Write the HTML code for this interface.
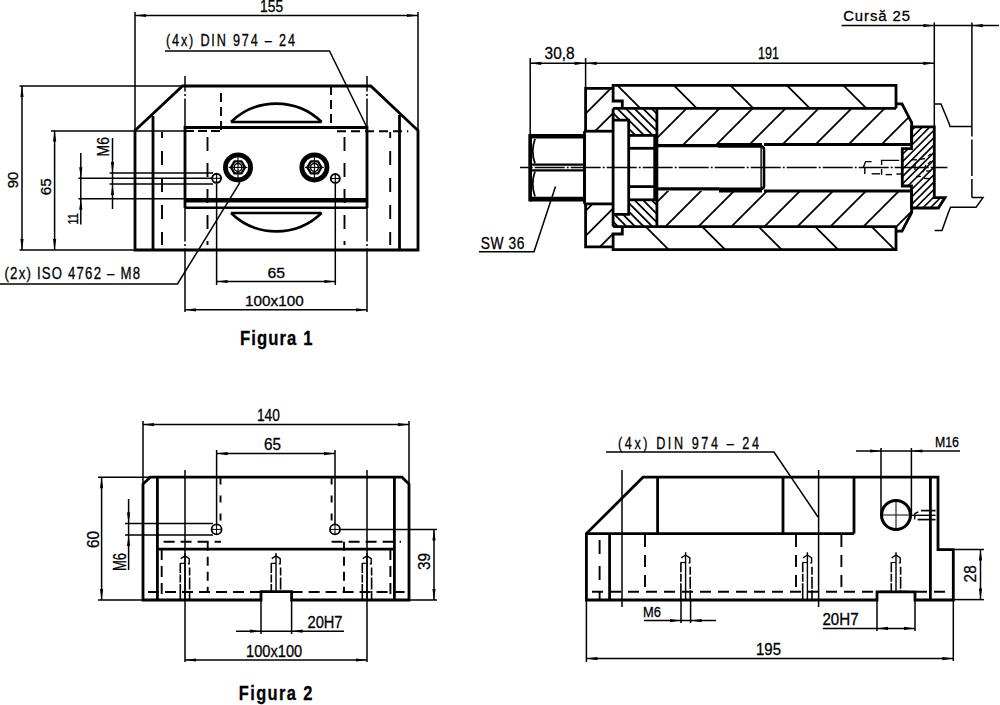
<!DOCTYPE html>
<html><head><meta charset="utf-8"><style>
html,body{margin:0;padding:0;background:#fff;width:1000px;height:705px;overflow:hidden}
svg{display:block}
text{white-space:pre;fill:#000;font-family:"Liberation Sans",sans-serif}
</style></head><body>
<svg width="1000" height="705" viewBox="0 0 1000 705" stroke="#000" fill="none" font-family="Liberation Sans, sans-serif">
<line x1="135" y1="12" x2="135" y2="130.5" stroke-width="1.5" stroke-linecap="butt"/>
<line x1="418" y1="12" x2="418" y2="130.5" stroke-width="1.5" stroke-linecap="butt"/>
<line x1="135" y1="15.5" x2="418" y2="15.5" stroke-width="1.5" stroke-linecap="butt"/>
<polygon points="135,15.5 146,13.9 146,17.1" fill="#000" stroke="none"/>
<polygon points="418,15.5 407,17.1 407,13.9" fill="#000" stroke="none"/>
<text x="0" y="0" font-size="16.28" stroke="#000" stroke-width="0.3" transform="translate(260 11.5) scale(0.85 1)">155</text>
<text x="0" y="0" font-size="15.76" letter-spacing="2.3" stroke="#000" stroke-width="0.3" transform="translate(166 46) scale(0.8 1)">(4x) DIN 974 – 24</text>
<polyline points="165,51 329.5,51 367,127.5" stroke-width="1.5" fill="none" stroke-linejoin="miter"/>
<line x1="19.5" y1="86" x2="182.5" y2="86" stroke-width="1.5" stroke-linecap="butt"/>
<line x1="19.5" y1="250" x2="135" y2="250" stroke-width="1.5" stroke-linecap="butt"/>
<line x1="22" y1="86" x2="22" y2="250" stroke-width="1.5" stroke-linecap="butt"/>
<polygon points="22,86 23.6,97 20.4,97" fill="#000" stroke="none"/>
<polygon points="22,250 20.4,239 23.6,239" fill="#000" stroke="none"/>
<text x="0" y="0" font-size="15.19" stroke="#000" stroke-width="0.3" transform="translate(18.4 188.2) rotate(-90) scale(0.97 1)">90</text>
<line x1="51" y1="130.9" x2="185" y2="130.9" stroke-width="1.5" stroke-linecap="butt"/>
<line x1="54.6" y1="130.5" x2="54.6" y2="250" stroke-width="1.5" stroke-linecap="butt"/>
<polygon points="54.6,130.5 56.2,141.5 53,141.5" fill="#000" stroke="none"/>
<polygon points="54.6,250 53,239 56.2,239" fill="#000" stroke="none"/>
<text x="0" y="0" font-size="15.19" stroke="#000" stroke-width="0.3" transform="translate(51 195.3) rotate(-90) scale(1.01 1)">65</text>
<line x1="78.4" y1="178.3" x2="212" y2="178.3" stroke-width="1.5" stroke-linecap="butt"/>
<line x1="78.4" y1="198.8" x2="185" y2="198.8" stroke-width="1.5" stroke-linecap="butt"/>
<line x1="80.8" y1="153" x2="80.8" y2="224.4" stroke-width="1.5" stroke-linecap="butt"/>
<polygon points="80.8,178.3 79.2,167.3 82.4,167.3" fill="#000" stroke="none"/>
<polygon points="80.8,198.8 82.4,209.8 79.2,209.8" fill="#000" stroke="none"/>
<text x="0" y="0" font-size="15.12" stroke="#000" stroke-width="0.3" transform="translate(77.6 224.4) rotate(-90) scale(0.71 1)">11</text>
<line x1="109.6" y1="172.9" x2="213" y2="172.9" stroke-width="1.5" stroke-linecap="butt"/>
<line x1="109.6" y1="183.9" x2="213" y2="183.9" stroke-width="1.5" stroke-linecap="butt"/>
<line x1="112.5" y1="138" x2="112.5" y2="209" stroke-width="1.5" stroke-linecap="butt"/>
<polygon points="112.5,172.9 110.9,161.9 114.1,161.9" fill="#000" stroke="none"/>
<polygon points="112.5,183.9 114.1,194.9 110.9,194.9" fill="#000" stroke="none"/>
<text x="0" y="0" font-size="16.05" stroke="#000" stroke-width="0.3" transform="translate(108.8 156.4) rotate(-90) scale(0.87 1)">M6</text>
<line x1="216.6" y1="183.5" x2="216.6" y2="285" stroke-width="1.5" stroke-linecap="butt"/>
<line x1="335.3" y1="184" x2="335.3" y2="285" stroke-width="1.5" stroke-linecap="butt"/>
<line x1="216.6" y1="281.5" x2="335.3" y2="281.5" stroke-width="1.5" stroke-linecap="butt"/>
<polygon points="216.6,281.5 227.6,279.9 227.6,283.1" fill="#000" stroke="none"/>
<polygon points="335.3,281.5 324.3,283.1 324.3,279.9" fill="#000" stroke="none"/>
<text x="0" y="0" font-size="15.04" stroke="#000" stroke-width="0.3" transform="translate(267.5 277.5) scale(1.05 1)">65</text>
<line x1="185" y1="309.8" x2="367" y2="309.8" stroke-width="1.5" stroke-linecap="butt"/>
<polygon points="185,309.8 196,308.2 196,311.4" fill="#000" stroke="none"/>
<polygon points="367,309.8 356,311.4 356,308.2" fill="#000" stroke="none"/>
<text x="0" y="0" font-size="15.47" stroke="#000" stroke-width="0.3" transform="translate(245 306.3) scale(0.99 1)">100x100</text>
<text x="0" y="0" font-size="16.48" letter-spacing="1.51" stroke="#000" stroke-width="0.3" transform="translate(4.5 278.5) scale(0.8 1)">(2x) ISO 4762 – M8</text>
<polyline points="0,284 177.5,284 240,182.4" stroke-width="1.5" fill="none" stroke-linejoin="miter"/>
<text x="0" y="0" font-size="20.35" letter-spacing="1.32" font-weight="bold" stroke="#000" stroke-width="0.3" transform="translate(240 345) scale(0.82 1)">Figura 1</text>
<polygon points="135,250 135,130.5 182.5,86 370.75,86 418,130.5 418,250" stroke-width="2.8" fill="none" stroke-linejoin="miter"/>
<line x1="153" y1="116" x2="153" y2="250" stroke-width="2.8" stroke-linecap="butt"/>
<line x1="399.5" y1="115" x2="399.5" y2="250" stroke-width="2.8" stroke-linecap="butt"/>
<polyline points="185,208 185,127.5 367,127.5 367,208" stroke-width="2.8" fill="none" stroke-linejoin="miter"/>
<line x1="185" y1="200.2" x2="367" y2="200.2" stroke-width="4.6" stroke-linecap="butt"/>
<line x1="185" y1="207.7" x2="367" y2="207.7" stroke-width="2.6" stroke-linecap="butt"/>
<polyline points="231,122 321.6,122" stroke-width="2.4" fill="none" stroke-linejoin="miter"/>
<path d="M231 122 A65 65 0 0 1 321.6 122" stroke-width="2.6"/>
<polyline points="231,213 321.6,213" stroke-width="2.4" fill="none" stroke-linejoin="miter"/>
<path d="M231 213 A65 65 0 0 0 321.6 213" stroke-width="2.6"/>
<line x1="185" y1="76" x2="185" y2="91.5" stroke-width="1.5" stroke-linecap="butt"/>
<line x1="185" y1="94" x2="185" y2="96" stroke-width="1.5" stroke-linecap="butt"/>
<line x1="185" y1="98.5" x2="185" y2="241.5" stroke-width="1.5" stroke-linecap="butt"/>
<line x1="185" y1="244" x2="185" y2="246" stroke-width="1.5" stroke-linecap="butt"/>
<line x1="185" y1="248.5" x2="185" y2="312" stroke-width="1.5" stroke-linecap="butt"/>
<line x1="367" y1="76" x2="367" y2="91.5" stroke-width="1.5" stroke-linecap="butt"/>
<line x1="367" y1="94" x2="367" y2="96" stroke-width="1.5" stroke-linecap="butt"/>
<line x1="367" y1="98.5" x2="367" y2="241.5" stroke-width="1.5" stroke-linecap="butt"/>
<line x1="367" y1="244" x2="367" y2="246" stroke-width="1.5" stroke-linecap="butt"/>
<line x1="367" y1="248.5" x2="367" y2="312" stroke-width="1.5" stroke-linecap="butt"/>
<line x1="221" y1="93" x2="221" y2="131" stroke-width="1.9" stroke-dasharray="9 5" stroke-linecap="butt"/>
<line x1="185" y1="131" x2="221" y2="131" stroke-width="1.9" stroke-dasharray="9 4" stroke-linecap="butt"/>
<line x1="331" y1="86" x2="331" y2="126" stroke-width="1.9" stroke-dasharray="9 5" stroke-linecap="butt"/>
<line x1="337" y1="131.3" x2="408.3" y2="131.3" stroke-width="1.9" stroke-dasharray="9 5" stroke-linecap="butt"/>
<line x1="162" y1="132" x2="162" y2="138" stroke-width="1.9" stroke-linecap="butt"/>
<line x1="162" y1="151" x2="162" y2="245" stroke-width="1.9" stroke-dasharray="14 13" stroke-linecap="butt"/>
<line x1="390.2" y1="132" x2="390.2" y2="138" stroke-width="1.9" stroke-linecap="butt"/>
<line x1="390.2" y1="151" x2="390.2" y2="245" stroke-width="1.9" stroke-dasharray="14 13" stroke-linecap="butt"/>
<line x1="207.5" y1="137" x2="207.5" y2="245" stroke-width="1.9" stroke-dasharray="14 12" stroke-linecap="butt"/>
<line x1="344.5" y1="137" x2="344.5" y2="245" stroke-width="1.9" stroke-dasharray="14 12" stroke-linecap="butt"/>
<circle cx="238" cy="167.4" r="12.6" stroke-width="4.8"/>
<polygon points="245.00,167.40 241.50,173.46 234.50,173.46 231.00,167.40 234.50,161.34 241.50,161.34" stroke-width="2.3" stroke-linejoin="round"/>
<circle cx="238" cy="167.4" r="3.9" stroke-width="1.5"/>
<line x1="228.6" y1="167.4" x2="247.4" y2="167.4" stroke-width="1.1" stroke-linecap="butt"/>
<line x1="238" y1="152.9" x2="238" y2="178.4" stroke-width="1.1" stroke-linecap="butt"/>
<circle cx="314.4" cy="167.4" r="12.6" stroke-width="4.8"/>
<polygon points="321.40,167.40 317.90,173.46 310.90,173.46 307.40,167.40 310.90,161.34 317.90,161.34" stroke-width="2.3" stroke-linejoin="round"/>
<circle cx="314.4" cy="167.4" r="3.9" stroke-width="1.5"/>
<line x1="305" y1="167.4" x2="323.8" y2="167.4" stroke-width="1.1" stroke-linecap="butt"/>
<line x1="314.4" y1="152.9" x2="314.4" y2="178.4" stroke-width="1.1" stroke-linecap="butt"/>
<circle cx="216.6" cy="178.3" r="4.5" stroke-width="1.9"/>
<line x1="212.1" y1="178.3" x2="221.1" y2="178.3" stroke-width="1.1" stroke-linecap="butt"/>
<line x1="216.6" y1="173.8" x2="216.6" y2="182.8" stroke-width="1.1" stroke-linecap="butt"/>
<circle cx="335.3" cy="178.5" r="4.5" stroke-width="1.9"/>
<line x1="330.8" y1="178.5" x2="339.8" y2="178.5" stroke-width="1.1" stroke-linecap="butt"/>
<line x1="335.3" y1="174" x2="335.3" y2="183" stroke-width="1.1" stroke-linecap="butt"/>
<line x1="530.2" y1="58" x2="530.2" y2="134" stroke-width="1.5" stroke-linecap="butt"/>
<line x1="585.6" y1="58" x2="585.6" y2="88.3" stroke-width="1.5" stroke-linecap="butt"/>
<line x1="530.2" y1="63.3" x2="585.6" y2="63.3" stroke-width="1.5" stroke-linecap="butt"/>
<polygon points="530.2,63.3 541.2,61.7 541.2,64.9" fill="#000" stroke="none"/>
<polygon points="585.6,63.3 574.6,64.9 574.6,61.7" fill="#000" stroke="none"/>
<text x="0" y="0" font-size="16.05" stroke="#000" stroke-width="0.3" transform="translate(544.6 58.8) scale(0.96 1)">30,8</text>
<line x1="585.6" y1="63.3" x2="934.3" y2="63.3" stroke-width="1.5" stroke-linecap="butt"/>
<polygon points="585.6,63.3 596.6,61.7 596.6,64.9" fill="#000" stroke="none"/>
<polygon points="934.3,63.3 923.3,64.9 923.3,61.7" fill="#000" stroke="none"/>
<text x="0" y="0" font-size="16.05" stroke="#000" stroke-width="0.3" transform="translate(758 58.8) scale(0.78 1)">191</text>
<line x1="841.6" y1="25.6" x2="999" y2="25.6" stroke-width="1.5" stroke-linecap="butt"/>
<polygon points="934.3,25.6 923.3,27.2 923.3,24" fill="#000" stroke="none"/>
<polygon points="971.9,25.6 982.9,24 982.9,27.2" fill="#000" stroke="none"/>
<line x1="934.3" y1="22.4" x2="934.3" y2="126.8" stroke-width="1.5" stroke-linecap="butt"/>
<line x1="971.9" y1="22.4" x2="971.9" y2="136.5" stroke-width="1.5" stroke-linecap="butt"/>
<line x1="971.9" y1="139.5" x2="971.9" y2="176" stroke-width="1.5" stroke-linecap="butt"/>
<line x1="971.9" y1="179" x2="971.9" y2="197.6" stroke-width="1.5" stroke-linecap="butt"/>
<text x="0" y="0" font-size="14.9" letter-spacing="0.91" stroke="#000" stroke-width="0.3" transform="translate(843.2 21.2) scale(1 1)">Cursă 25</text>
<text x="0" y="0" font-size="16.19" letter-spacing="0.71" stroke="#000" stroke-width="0.3" transform="translate(480.8 248.9) scale(0.85 1)">SW 36</text>
<polyline points="479,251.8 534,251.8 555.5,186.4" stroke-width="1.5" fill="none" stroke-linejoin="miter"/>
<clipPath id="c110"><polygon points="613.1,85.4 896,85.4 896,108.4 613.1,108.4"/></clipPath>
<path d="M581.35 -176.65L1028.1 270.1M553.1 -148.4L999.85 298.35M524.85 -120.15L971.6 326.6M496.6 -91.9L943.35 354.85M468.35 -63.65L915.1 383.1" stroke-width="1.8" clip-path="url(#c110)"/>
<clipPath id="c112"><polygon points="613.1,226.6 896,226.6 896,249.6 613.1,249.6"/></clipPath>
<path d="M595.45 -49.55L1042.2 397.2M567.2 -21.3L1013.95 425.45M538.95 6.95L985.7 453.7M510.7 35.2L957.45 481.95M482.45 63.45L929.2 510.2" stroke-width="1.8" clip-path="url(#c112)"/>
<clipPath id="c114"><polygon points="656.9,108.4 896,108.4 896,103.8 902,103.8 911.7,122.6 911.7,144.5 656.9,144.5"/></clipPath>
<path d="M495.05 266.95L927.1 -165.1M511.55 283.45L943.6 -148.6M528.05 299.95L960.1 -132.1M544.55 316.45L976.6 -115.6M561.05 332.95L993.1 -99.1M577.55 349.45L1009.6 -82.6M594.05 365.95L1026.1 -66.1M610.55 382.45L1042.6 -49.6M627.05 398.95L1059.1 -33.1" stroke-width="1.8" clip-path="url(#c114)"/>
<clipPath id="c116"><polygon points="656.9,226.6 896,226.6 896,231.2 902,231.2 911.7,212.4 911.7,191 656.9,191"/></clipPath>
<path d="M500.43 358.57L931.77 -72.77M516.93 375.07L948.27 -56.27M533.43 391.57L964.77 -39.77M549.93 408.07L981.27 -23.27M566.43 424.57L997.77 -6.77M582.93 441.07L1014.27 9.73M599.43 457.57L1030.77 26.23M615.93 474.07L1047.27 42.73M632.43 490.57L1063.77 59.23" stroke-width="1.8" clip-path="url(#c116)"/>
<clipPath id="c118"><polygon points="613.1,108.4 656.9,108.4 656.9,135.4 628.7,135.4 628.7,120.2 613.1,120.2"/></clipPath>
<path d="M592.87 49.77L707.13 164.03M588.57 54.07L702.83 168.33M584.27 58.37L698.53 172.63M579.97 62.67L694.23 176.93M575.67 66.97L689.93 181.23M571.37 71.27L685.63 185.53M567.07 75.57L681.33 189.83M562.77 79.87L677.03 194.13" stroke-width="1.8" clip-path="url(#c118)"/>
<clipPath id="c120"><polygon points="613.1,226.6 656.9,226.6 656.9,199.8 628.7,199.8 628.7,214.4 613.1,214.4"/></clipPath>
<path d="M592.91 141.31L706.89 255.29M588.61 145.61L702.59 259.59M584.31 149.91L698.29 263.89M580.01 154.21L693.99 268.19M575.71 158.51L689.69 272.49M571.41 162.81L685.39 276.79M567.11 167.11L681.09 281.09M562.81 171.41L676.79 285.39" stroke-width="1.8" clip-path="url(#c120)"/>
<clipPath id="c122"><polygon points="585.6,88.3 612.8,88.3 612.8,131.2 585.6,131.2"/></clipPath>
<path d="M537.69 161.51L650.96 48.24M551.19 175.01L664.46 61.74" stroke-width="1.8" clip-path="url(#c122)"/>
<clipPath id="c124"><polygon points="585.6,203.9 612.8,203.9 612.8,246.9 585.6,246.9"/></clipPath>
<path d="M528.39 268.01L641.81 154.59M540.99 280.61L654.41 167.19M553.59 293.21L667.01 179.79" stroke-width="1.8" clip-path="url(#c124)"/>
<clipPath id="c126"><polygon points="911.5,126.8 934.3,126.8 934.3,197.6 945,197.6 938.4,208 911.5,208 911.5,186 902.3,186 902.3,148.6 911.5,148.6"/></clipPath>
<path d="M800.74 233.86L990.11 44.49M804.44 237.56L993.81 48.19M808.14 241.26L997.51 51.89M811.84 244.96L1001.21 55.59M815.54 248.66L1004.91 59.29M819.24 252.36L1008.61 62.99M822.94 256.06L1012.31 66.69M826.64 259.76L1016.01 70.39M830.34 263.46L1019.71 74.09M834.04 267.16L1023.41 77.79M837.74 270.86L1027.11 81.49M841.44 274.56L1030.81 85.19M845.14 278.26L1034.51 88.89M848.84 281.96L1038.21 92.59M852.54 285.66L1041.91 96.29M856.24 289.36L1045.61 99.99M859.94 293.06L1049.31 103.69" stroke-width="1.6" clip-path="url(#c126)"/>
<polyline points="622.3,107.3 622.3,101 613.1,101 613.1,85.4 896,85.4 896,108.4" stroke-width="2.8" fill="none" stroke-linejoin="miter"/>
<line x1="613.1" y1="108.4" x2="896" y2="108.4" stroke-width="2.8" stroke-linecap="butt"/>
<polyline points="622.3,227.7 622.3,234 613.1,234 613.1,249.6 896,249.6 896,226.6" stroke-width="2.8" fill="none" stroke-linejoin="miter"/>
<line x1="613.1" y1="226.6" x2="896" y2="226.6" stroke-width="2.8" stroke-linecap="butt"/>
<polyline points="896,103.8 902,103.8 911.7,122.6 911.7,144.5" stroke-width="2.8" fill="none" stroke-linejoin="miter"/>
<polyline points="896,231.2 902,231.2 911.7,212.4 911.7,191" stroke-width="2.8" fill="none" stroke-linejoin="miter"/>
<line x1="764" y1="144.5" x2="911.7" y2="144.5" stroke-width="2.8" stroke-linecap="butt"/>
<line x1="764" y1="191" x2="911.7" y2="191" stroke-width="2.8" stroke-linecap="butt"/>
<line x1="656.9" y1="145.6" x2="718" y2="145.6" stroke-width="3.2" stroke-linecap="butt"/>
<line x1="656.9" y1="188.9" x2="719" y2="188.9" stroke-width="3.2" stroke-linecap="butt"/>
<line x1="613.1" y1="108.4" x2="613.1" y2="226.6" stroke-width="2.8" stroke-linecap="butt"/>
<line x1="656.9" y1="108.4" x2="656.9" y2="226.6" stroke-width="2.8" stroke-linecap="butt"/>
<polyline points="613.1,120.2 628.7,120.2 628.7,214.4 613.1,214.4" stroke-width="2.8" fill="none" stroke-linejoin="miter"/>
<line x1="628.7" y1="135.4" x2="656.9" y2="135.4" stroke-width="2.8" stroke-linecap="butt"/>
<line x1="628.7" y1="199.8" x2="656.9" y2="199.8" stroke-width="2.8" stroke-linecap="butt"/>
<line x1="628.7" y1="148.3" x2="654.7" y2="148.3" stroke-width="2.8" stroke-linecap="butt"/>
<line x1="628.7" y1="186.6" x2="654.7" y2="186.6" stroke-width="2.8" stroke-linecap="butt"/>
<line x1="654.7" y1="135.4" x2="654.7" y2="199.8" stroke-width="2.8" stroke-linecap="butt"/>
<path d="M718 146.4 L761 146.4 Q764 146.4 764 149.5 L764 185.7 Q764 188.7 761 188.7 L719 188.7" stroke-width="2.6"/>
<line x1="761.1" y1="147" x2="761.1" y2="188" stroke-width="1.4" stroke-linecap="butt"/>
<line x1="718" y1="144.6" x2="762" y2="144.6" stroke-width="3.4" stroke-linecap="butt"/>
<line x1="719" y1="190.8" x2="762" y2="190.8" stroke-width="3.4" stroke-linecap="butt"/>
<polyline points="585.6,131.2 585.6,88.3 613.1,88.3" stroke-width="2.8" fill="none" stroke-linejoin="miter"/>
<line x1="584" y1="131.2" x2="613.1" y2="131.2" stroke-width="2.8" stroke-linecap="butt"/>
<polyline points="585.6,203.9 585.6,246.9 613.1,246.9" stroke-width="2.8" fill="none" stroke-linejoin="miter"/>
<line x1="584" y1="203.9" x2="613.1" y2="203.9" stroke-width="2.8" stroke-linecap="butt"/>
<line x1="584.5" y1="131.2" x2="584.5" y2="203.9" stroke-width="2.8" stroke-linecap="butt"/>
<polygon points="530.2,136.25 530.2,199.1 584.5,199.1 584.5,136.25" stroke-width="2.8" fill="none" stroke-linejoin="miter"/>
<line x1="530.2" y1="136.25" x2="584.5" y2="136.25" stroke-width="4.5" stroke-linecap="butt"/>
<line x1="530.2" y1="199.1" x2="584.5" y2="199.1" stroke-width="4.8" stroke-linecap="butt"/>
<line x1="530.2" y1="164.6" x2="584.5" y2="164.6" stroke-width="2.2" stroke-linecap="butt"/>
<line x1="530.2" y1="170.3" x2="584.5" y2="170.3" stroke-width="2.2" stroke-linecap="butt"/>
<path d="M535 139 Q530.5 151.5 535 163.5 M535 171.5 Q530.5 184 535 196.5" stroke-width="1.8"/>
<line x1="530.2" y1="134" x2="530.2" y2="201.5" stroke-width="3.6" stroke-linecap="butt"/>
<polygon points="911.5,126.8 934.3,126.8 934.3,197.6 945,197.6 938.4,208 911.5,208 911.5,186 902.3,186 902.3,148.6 911.5,148.6" stroke-width="2.8" fill="none" stroke-linejoin="miter"/>
<polyline points="934.6,103.9 941,103.9 948.9,123 950.1,126.6 971.9,126.6" stroke-width="1.5" fill="none" stroke-linejoin="miter"/>
<polyline points="971.9,197.6 983,197.6 976.1,207.2 950.6,207.2 948.4,212.5 942,230.6 934.6,230.6" stroke-width="1.5" fill="none" stroke-linejoin="miter"/>
<line x1="520" y1="167.6" x2="947.4" y2="167.6" stroke-width="1.5" stroke-dasharray="30 2 2 2" stroke-dashoffset="21.3"/>
<polyline points="863.5,167 865.6,161.6 871.6,161.6" stroke-width="1.4" fill="none" stroke-linejoin="miter"/>
<line x1="864.8" y1="167" x2="864.8" y2="174" stroke-width="1.4" stroke-linecap="butt"/>
<polyline points="899.2,160.4 881.6,160.4 881.6,165" stroke-width="1.4" fill="none" stroke-linejoin="miter"/>
<line x1="881.6" y1="169" x2="881.6" y2="174.8" stroke-width="1.4" stroke-linecap="butt"/>
<line x1="871.6" y1="173.8" x2="880" y2="173.8" stroke-width="1.4" stroke-linecap="butt"/>
<line x1="885.6" y1="174.6" x2="892" y2="174.6" stroke-width="1.4" stroke-linecap="butt"/>
<line x1="896.4" y1="174" x2="902" y2="174" stroke-width="1.4" stroke-linecap="butt"/>
<line x1="911" y1="159.8" x2="917" y2="159.8" stroke-width="1.3" stroke-linecap="butt"/>
<line x1="920" y1="159.3" x2="925" y2="158.5" stroke-width="1.3" stroke-linecap="butt"/>
<line x1="915" y1="163" x2="915" y2="170" stroke-width="1.3" stroke-linecap="butt"/>
<line x1="923" y1="172" x2="926" y2="165" stroke-width="1.3" stroke-linecap="butt"/>
<line x1="928" y1="156" x2="931" y2="154" stroke-width="1.3" stroke-linecap="butt"/>
<line x1="928" y1="164" x2="931" y2="161" stroke-width="1.3" stroke-linecap="butt"/>
<line x1="916" y1="176.5" x2="921" y2="176.5" stroke-width="1.3" stroke-linecap="butt"/>
<line x1="924" y1="178.5" x2="930" y2="178.5" stroke-width="1.3" stroke-linecap="butt"/>
<line x1="926" y1="171" x2="931" y2="171" stroke-width="1.3" stroke-linecap="butt"/>
<line x1="143" y1="421" x2="143" y2="484" stroke-width="1.5" stroke-linecap="butt"/>
<line x1="409" y1="421" x2="409" y2="484" stroke-width="1.5" stroke-linecap="butt"/>
<line x1="143" y1="424.6" x2="409" y2="424.6" stroke-width="1.5" stroke-linecap="butt"/>
<polygon points="143,424.6 154,423 154,426.2" fill="#000" stroke="none"/>
<polygon points="409,424.6 398,426.2 398,423" fill="#000" stroke="none"/>
<text x="0" y="0" font-size="15.76" stroke="#000" stroke-width="0.3" transform="translate(257 421) scale(0.87 1)">140</text>
<line x1="216.6" y1="450" x2="216.6" y2="524" stroke-width="1.5" stroke-linecap="butt"/>
<line x1="335" y1="450" x2="335" y2="524" stroke-width="1.5" stroke-linecap="butt"/>
<line x1="216.6" y1="453.6" x2="335" y2="453.6" stroke-width="1.5" stroke-linecap="butt"/>
<polygon points="216.6,453.6 227.6,452 227.6,455.2" fill="#000" stroke="none"/>
<polygon points="335,453.6 324,455.2 324,452" fill="#000" stroke="none"/>
<text x="0" y="0" font-size="15.76" stroke="#000" stroke-width="0.3" transform="translate(264 450) scale(0.97 1)">65</text>
<line x1="98" y1="477.2" x2="150" y2="477.2" stroke-width="1.5" stroke-linecap="butt"/>
<line x1="98" y1="600" x2="143" y2="600" stroke-width="1.5" stroke-linecap="butt"/>
<line x1="101.6" y1="477.2" x2="101.6" y2="600" stroke-width="1.5" stroke-linecap="butt"/>
<polygon points="101.6,477.2 103.2,488.2 100,488.2" fill="#000" stroke="none"/>
<polygon points="101.6,600 100,589 103.2,589" fill="#000" stroke="none"/>
<text x="0" y="0" font-size="15.76" stroke="#000" stroke-width="0.3" transform="translate(99 548) rotate(-90) scale(0.97 1)">60</text>
<line x1="125" y1="523.6" x2="213" y2="523.6" stroke-width="1.5" stroke-linecap="butt"/>
<line x1="125" y1="534.9" x2="213" y2="534.9" stroke-width="1.5" stroke-linecap="butt"/>
<line x1="128.6" y1="499" x2="128.6" y2="570" stroke-width="1.5" stroke-linecap="butt"/>
<polygon points="128.6,523.6 127,512.6 130.2,512.6" fill="#000" stroke="none"/>
<polygon points="128.6,534.9 130.2,545.9 127,545.9" fill="#000" stroke="none"/>
<text x="0" y="0" font-size="18.62" stroke="#000" stroke-width="0.3" transform="translate(126 571) rotate(-90) scale(0.7 1)">M6</text>
<line x1="340" y1="529.4" x2="437" y2="529.4" stroke-width="1.5" stroke-linecap="butt"/>
<line x1="409" y1="600" x2="437" y2="600" stroke-width="1.5" stroke-linecap="butt"/>
<line x1="434" y1="529.4" x2="434" y2="600" stroke-width="1.5" stroke-linecap="butt"/>
<polygon points="434,529.4 435.6,540.4 432.4,540.4" fill="#000" stroke="none"/>
<polygon points="434,600 432.4,589 435.6,589" fill="#000" stroke="none"/>
<text x="0" y="0" font-size="17.19" stroke="#000" stroke-width="0.3" transform="translate(430 570) rotate(-90) scale(0.89 1)">39</text>
<line x1="261" y1="600" x2="261" y2="634" stroke-width="1.5" stroke-linecap="butt"/>
<line x1="291.6" y1="600" x2="291.6" y2="634" stroke-width="1.5" stroke-linecap="butt"/>
<line x1="236" y1="631.2" x2="344" y2="631.2" stroke-width="1.5" stroke-linecap="butt"/>
<polygon points="261,631.2 250,632.8 250,629.6" fill="#000" stroke="none"/>
<polygon points="291.6,631.2 302.6,629.6 302.6,632.8" fill="#000" stroke="none"/>
<text x="0" y="0" font-size="16.48" stroke="#000" stroke-width="0.3" transform="translate(307.5 627.5) scale(0.89 1)">20H7</text>
<line x1="185" y1="660" x2="367" y2="660" stroke-width="1.5" stroke-linecap="butt"/>
<polygon points="185,660 196,658.4 196,661.6" fill="#000" stroke="none"/>
<polygon points="367,660 356,661.6 356,658.4" fill="#000" stroke="none"/>
<text x="0" y="0" font-size="15.76" stroke="#000" stroke-width="0.3" transform="translate(246 657) scale(0.93 1)">100x100</text>
<text x="0" y="0" font-size="20.06" letter-spacing="1.7" font-weight="bold" stroke="#000" stroke-width="0.3" transform="translate(238.75 700) scale(0.82 1)">Figura 2</text>
<polygon points="143,600 143,484 150.2,477.2 402,477.2 409,484 409,600 291.6,600 291.6,591.6 261,591.6 261,600" stroke-width="2.8" fill="none" stroke-linejoin="miter"/>
<line x1="157.4" y1="477.2" x2="157.4" y2="600" stroke-width="2.8" stroke-linecap="butt"/>
<line x1="394.4" y1="477.2" x2="394.4" y2="600" stroke-width="2.8" stroke-linecap="butt"/>
<line x1="157.4" y1="549.2" x2="394.4" y2="549.2" stroke-width="2.8" stroke-linecap="butt"/>
<line x1="185" y1="470" x2="185" y2="662" stroke-width="1.5" stroke-linecap="butt"/>
<line x1="367" y1="470" x2="367" y2="662" stroke-width="1.5" stroke-linecap="butt"/>
<circle cx="216.6" cy="529.4" r="5" stroke-width="1.8"/>
<line x1="211.6" y1="529.4" x2="221.6" y2="529.4" stroke-width="1" stroke-linecap="butt"/>
<line x1="216.6" y1="524.4" x2="216.6" y2="534.4" stroke-width="1" stroke-linecap="butt"/>
<circle cx="335" cy="529.4" r="5" stroke-width="1.8"/>
<line x1="330" y1="529.4" x2="340" y2="529.4" stroke-width="1" stroke-linecap="butt"/>
<line x1="335" y1="524.4" x2="335" y2="534.4" stroke-width="1" stroke-linecap="butt"/>
<line x1="220.5" y1="477.5" x2="220.5" y2="526" stroke-width="1.9" stroke-dasharray="7 11" stroke-linecap="butt"/>
<line x1="331.6" y1="477.5" x2="331.6" y2="526" stroke-width="1.9" stroke-dasharray="7 11" stroke-linecap="butt"/>
<line x1="163.6" y1="541.8" x2="221" y2="541.8" stroke-width="1.9" stroke-dasharray="11 6" stroke-linecap="butt"/>
<line x1="331.6" y1="541.8" x2="401" y2="541.8" stroke-width="1.9" stroke-dasharray="11 6" stroke-linecap="butt"/>
<line x1="207.7" y1="541.8" x2="207.7" y2="592" stroke-width="1.9" stroke-dasharray="9 6" stroke-linecap="butt"/>
<line x1="344" y1="541.8" x2="344" y2="592" stroke-width="1.9" stroke-dasharray="9 6" stroke-linecap="butt"/>
<line x1="161.7" y1="549" x2="161.7" y2="600" stroke-width="1.9" stroke-dasharray="11 6" stroke-linecap="butt"/>
<line x1="390.4" y1="549" x2="390.4" y2="600" stroke-width="1.9" stroke-dasharray="11 6" stroke-linecap="butt"/>
<line x1="148" y1="592" x2="261" y2="592" stroke-width="1.9" stroke-dasharray="11 6" stroke-linecap="butt"/>
<line x1="291.6" y1="592" x2="408" y2="592" stroke-width="1.9" stroke-dasharray="11 6" stroke-linecap="butt"/>
<line x1="185" y1="553" x2="185" y2="600" stroke-width="1.4" stroke-linecap="butt"/>
<polyline points="180.7,558.6 185,555.8 189.2,558.6 189.2,563.7 187.8,563.7" stroke-width="1.4" fill="none" stroke-linejoin="miter"/>
<line x1="180.3" y1="563" x2="180.3" y2="599" stroke-width="1.6" stroke-dasharray="10 1.5 8 1.5 30" stroke-linecap="butt"/>
<line x1="180.3" y1="563.3" x2="185" y2="563.3" stroke-width="1.2" stroke-linecap="butt"/>
<line x1="189.6" y1="567.5" x2="189.6" y2="599" stroke-width="1.6" stroke-dasharray="8 2 12 1.5 30" stroke-linecap="butt"/>
<line x1="367" y1="553" x2="367" y2="600" stroke-width="1.4" stroke-linecap="butt"/>
<polyline points="362.7,558.6 367,555.8 371.2,558.6 371.2,563.7 369.8,563.7" stroke-width="1.4" fill="none" stroke-linejoin="miter"/>
<line x1="362.3" y1="563" x2="362.3" y2="599" stroke-width="1.6" stroke-dasharray="10 1.5 8 1.5 30" stroke-linecap="butt"/>
<line x1="362.3" y1="563.3" x2="367" y2="563.3" stroke-width="1.2" stroke-linecap="butt"/>
<line x1="371.6" y1="567.5" x2="371.6" y2="599" stroke-width="1.6" stroke-dasharray="8 2 12 1.5 30" stroke-linecap="butt"/>
<line x1="276" y1="553" x2="276" y2="593" stroke-width="1.4" stroke-linecap="butt"/>
<polyline points="271.7,558.6 276,555.8 280.2,558.6 280.2,563.7 278.8,563.7" stroke-width="1.4" fill="none" stroke-linejoin="miter"/>
<line x1="271.3" y1="563" x2="271.3" y2="592" stroke-width="1.6" stroke-dasharray="10 1.5 8 1.5 30" stroke-linecap="butt"/>
<line x1="271.3" y1="563.3" x2="276" y2="563.3" stroke-width="1.2" stroke-linecap="butt"/>
<line x1="280.6" y1="567.5" x2="280.6" y2="592" stroke-width="1.6" stroke-dasharray="8 2 12 1.5 30" stroke-linecap="butt"/>
<text x="0" y="0" font-size="15.76" letter-spacing="3.24" stroke="#000" stroke-width="0.3" transform="translate(618 449) scale(0.8 1)">(4x) DIN 974 – 24</text>
<polyline points="606,452 774,452 818,517" stroke-width="1.5" fill="none" stroke-linejoin="miter"/>
<line x1="856" y1="451" x2="960" y2="451" stroke-width="1.5" stroke-linecap="butt"/>
<polygon points="881,451 870,452.6 870,449.4" fill="#000" stroke="none"/>
<polygon points="911.4,451 922.4,449.4 922.4,452.6" fill="#000" stroke="none"/>
<line x1="881" y1="448" x2="881" y2="515" stroke-width="1.5" stroke-linecap="butt"/>
<line x1="911.4" y1="448" x2="911.4" y2="515" stroke-width="1.5" stroke-linecap="butt"/>
<text x="0" y="0" font-size="14.33" stroke="#000" stroke-width="0.3" transform="translate(935 447) scale(0.86 1)">M16</text>
<line x1="938" y1="549.6" x2="984" y2="549.6" stroke-width="1.5" stroke-linecap="butt"/>
<line x1="953.3" y1="599.6" x2="984" y2="599.6" stroke-width="1.5" stroke-linecap="butt"/>
<line x1="980.5" y1="549.6" x2="980.5" y2="599.6" stroke-width="1.5" stroke-linecap="butt"/>
<polygon points="980.5,549.6 982.1,560.6 978.9,560.6" fill="#000" stroke="none"/>
<polygon points="980.5,599.6 978.9,588.6 982.1,588.6" fill="#000" stroke="none"/>
<text x="0" y="0" font-size="16.33" stroke="#000" stroke-width="0.3" transform="translate(976 582.4) rotate(-90) scale(0.94 1)">28</text>
<line x1="586.4" y1="600" x2="586.4" y2="662" stroke-width="1.5" stroke-linecap="butt"/>
<line x1="953.3" y1="600" x2="953.3" y2="661" stroke-width="1.5" stroke-linecap="butt"/>
<line x1="586.4" y1="658.6" x2="953.3" y2="658.6" stroke-width="1.5" stroke-linecap="butt"/>
<polygon points="586.4,658.6 597.4,657 597.4,660.2" fill="#000" stroke="none"/>
<polygon points="953.3,658.6 942.3,660.2 942.3,657" fill="#000" stroke="none"/>
<text x="0" y="0" font-size="15.76" stroke="#000" stroke-width="0.3" transform="translate(756 655) scale(0.95 1)">195</text>
<line x1="681" y1="600" x2="681" y2="623" stroke-width="1.5" stroke-linecap="butt"/>
<line x1="690.6" y1="600" x2="690.6" y2="623" stroke-width="1.5" stroke-linecap="butt"/>
<line x1="644" y1="620.6" x2="716" y2="620.6" stroke-width="1.5" stroke-linecap="butt"/>
<polygon points="681,620.6 670,622.2 670,619" fill="#000" stroke="none"/>
<polygon points="690.6,620.6 701.6,619 701.6,622.2" fill="#000" stroke="none"/>
<text x="0" y="0" font-size="14.33" stroke="#000" stroke-width="0.3" transform="translate(643 617) scale(0.9 1)">M6</text>
<line x1="877" y1="600" x2="877" y2="631" stroke-width="1.5" stroke-linecap="butt"/>
<line x1="915" y1="600" x2="915" y2="631" stroke-width="1.5" stroke-linecap="butt"/>
<line x1="823" y1="628.4" x2="915" y2="628.4" stroke-width="1.5" stroke-linecap="butt"/>
<polygon points="877,628.4 888,626.8 888,630" fill="#000" stroke="none"/>
<polygon points="915,628.4 904,630 904,626.8" fill="#000" stroke="none"/>
<text x="0" y="0" font-size="15.76" stroke="#000" stroke-width="0.3" transform="translate(822.4 625) scale(0.96 1)">20H7</text>
<polygon points="586.4,600 586.4,533.6 643,477.2 938,477.2 938,549.6 953.3,549.6 953.3,600 915,600 915,591.8 877,591.8 877,600" stroke-width="2.8" fill="none" stroke-linejoin="miter"/>
<line x1="586.4" y1="533.6" x2="854" y2="533.6" stroke-width="2.8" stroke-linecap="butt"/>
<line x1="657.6" y1="477.2" x2="657.6" y2="533.6" stroke-width="2.8" stroke-linecap="butt"/>
<line x1="783" y1="477.2" x2="783" y2="533.6" stroke-width="2.8" stroke-linecap="butt"/>
<line x1="854" y1="477.2" x2="854" y2="533.6" stroke-width="2.8" stroke-linecap="butt"/>
<line x1="609.6" y1="533.6" x2="609.6" y2="600" stroke-width="2.8" stroke-linecap="butt"/>
<line x1="930.4" y1="477.2" x2="930.4" y2="600" stroke-width="2.8" stroke-linecap="butt"/>
<line x1="622" y1="470" x2="622" y2="607" stroke-width="1.5" stroke-linecap="butt"/>
<line x1="818.6" y1="470" x2="818.6" y2="607" stroke-width="1.5" stroke-linecap="butt"/>
<circle cx="896" cy="515" r="14.5" stroke-width="3.1"/>
<line x1="880" y1="515" x2="912" y2="515" stroke-width="1" stroke-linecap="butt"/>
<line x1="896" y1="499" x2="896" y2="531" stroke-width="1" stroke-linecap="butt"/>
<line x1="599.6" y1="540" x2="599.6" y2="600" stroke-width="1.9" stroke-dasharray="14 12" stroke-linecap="butt"/>
<line x1="645" y1="535" x2="645" y2="592" stroke-width="1.9" stroke-dasharray="12 8" stroke-linecap="butt"/>
<line x1="796" y1="535" x2="796" y2="592" stroke-width="1.9" stroke-dasharray="12 8" stroke-linecap="butt"/>
<line x1="841.4" y1="535" x2="841.4" y2="592" stroke-width="1.9" stroke-dasharray="12 8" stroke-linecap="butt"/>
<line x1="592" y1="591.8" x2="953" y2="591.8" stroke-width="1.9" stroke-dasharray="11 7" stroke-linecap="butt"/>
<line x1="685.6" y1="552.2" x2="685.6" y2="600" stroke-width="1.4" stroke-linecap="butt"/>
<polyline points="681.3,557.8 685.6,555 689.8,557.8 689.8,562.9 688.4,562.9" stroke-width="1.4" fill="none" stroke-linejoin="miter"/>
<line x1="680.9" y1="562.2" x2="680.9" y2="599" stroke-width="1.6" stroke-dasharray="10 1.5 8 1.5 30" stroke-linecap="butt"/>
<line x1="680.9" y1="562.5" x2="685.6" y2="562.5" stroke-width="1.2" stroke-linecap="butt"/>
<line x1="690.2" y1="566.7" x2="690.2" y2="599" stroke-width="1.6" stroke-dasharray="8 2 12 1.5 30" stroke-linecap="butt"/>
<line x1="807.4" y1="552.2" x2="807.4" y2="600" stroke-width="1.4" stroke-linecap="butt"/>
<polyline points="803.1,557.8 807.4,555 811.6,557.8 811.6,562.9 810.2,562.9" stroke-width="1.4" fill="none" stroke-linejoin="miter"/>
<line x1="802.7" y1="562.2" x2="802.7" y2="599" stroke-width="1.6" stroke-dasharray="10 1.5 8 1.5 30" stroke-linecap="butt"/>
<line x1="802.7" y1="562.5" x2="807.4" y2="562.5" stroke-width="1.2" stroke-linecap="butt"/>
<line x1="812" y1="566.7" x2="812" y2="599" stroke-width="1.6" stroke-dasharray="8 2 12 1.5 30" stroke-linecap="butt"/>
<line x1="896" y1="552.2" x2="896" y2="593" stroke-width="1.4" stroke-linecap="butt"/>
<polyline points="891.7,557.8 896,555 900.2,557.8 900.2,562.9 898.8,562.9" stroke-width="1.4" fill="none" stroke-linejoin="miter"/>
<line x1="891.3" y1="562.2" x2="891.3" y2="592" stroke-width="1.6" stroke-dasharray="10 1.5 8 1.5 30" stroke-linecap="butt"/>
<line x1="891.3" y1="562.5" x2="896" y2="562.5" stroke-width="1.2" stroke-linecap="butt"/>
<line x1="900.6" y1="566.7" x2="900.6" y2="592" stroke-width="1.6" stroke-dasharray="8 2 12 1.5 30" stroke-linecap="butt"/>
<line x1="911" y1="515.3" x2="935.5" y2="515.3" stroke-width="1.4" stroke-linecap="butt"/>
<line x1="921" y1="510.6" x2="935.5" y2="510.6" stroke-width="1.7" stroke-linecap="butt"/>
<line x1="917.6" y1="519.6" x2="935.5" y2="519.6" stroke-width="1.7" stroke-linecap="butt"/>
<polyline points="918.3,511.8 915,513.5 914.6,519.5" stroke-width="1.5" fill="none" stroke-linejoin="miter"/>
</svg>
</body></html>
